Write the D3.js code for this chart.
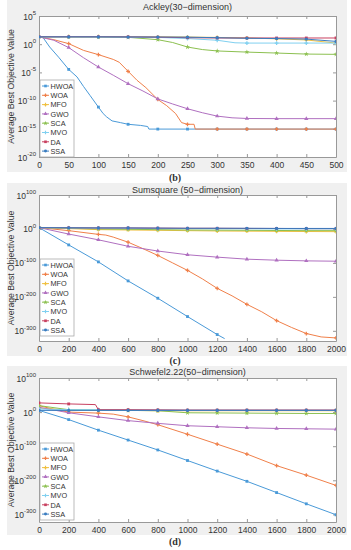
<!DOCTYPE html>
<html>
<head>
<meta charset="utf-8">
<script src="https://cdn.jsdelivr.net/npm/d3@7"></script>
<style>
  body { margin: 0; background: #fff; }
  text { font-family: "Liberation Sans", Arial, sans-serif; fill: #333; }
</style>
</head>
<body>
<svg id="chart" width="351" height="550"></svg>
<script>
// algorithm names (legend order = draw order)
let algos = ["HWOA", "WOA", "MFO", "GWO", "SCA", "MVO", "DA", "SSA"];
let colors = ["#4a9ad8", "#f0804a", "#f0c040", "#b070c0", "#8cc050", "#80d0f0", "#c84060", "#3a7cc0"];
let symbols = [d3.symbolSquare, d3.symbolCross, d3.symbolCross, d3.symbolTriangle, d3.symbolStar, d3.symbolCross, d3.symbolSquare, d3.symbolCircle];

// values are log10 of the average best objective value, [iteration, log10]
// (b) Ackley 30-dimension
let ackHWOA = [[0,1.3],[7,1.15],[18,-0.5],[33,-2.3],[50,-4.47],[64,-5.8],[75,-7.5],[86,-9.1],[100,-11.15],[108,-12.3],[114,-12.9],[123,-13.6],[137,-13.9],[150,-14.2],[171,-14.4],[183,-14.6],[185,-15.05],[200,-15.05],[250,-15.05],[300,-15.05],[350,-15.05],[400,-15.05],[450,-15.05],[500,-15.05]];
let ackWOA = [[0,1.3],[25,0.8],[50,0.1],[75,-1.1],[100,-1.85],[125,-2.7],[135,-3.2],[150,-4.8],[165,-6.4],[180,-7.7],[200,-9.8],[215,-10.9],[230,-12.3],[240,-13.9],[250,-14.2],[261,-14.2],[263,-15.05],[300,-15.05],[350,-15.05],[400,-15.05],[450,-15.05],[500,-15.05]];
let ackMFO = [[0,1.32],[50,1.32],[100,1.32],[150,1.31],[200,1.3],[250,1.27],[300,1.2],[350,1.1],[400,0.95],[450,0.75],[500,0.2]];
let ackGWO = [[0,1.3],[25,0.7],[50,-0.6],[75,-2.4],[100,-4.05],[125,-5.5],[150,-7.0],[175,-8.3],[200,-9.7],[225,-10.6],[250,-11.45],[275,-12.15],[300,-12.75],[325,-13.05],[350,-13.17],[400,-13.2],[450,-13.2],[500,-13.2]];
let ackSCA = [[0,1.3],[50,1.3],[100,1.28],[150,1.22],[200,0.8],[225,0.3],[250,-0.5],[275,-0.95],[300,-1.2],[350,-1.4],[400,-1.57],[450,-1.75],[500,-1.8]];
let ackMVO = [[0,1.3],[50,1.3],[100,1.28],[150,1.25],[200,1.2],[250,1.0],[300,0.7],[330,0.25],[350,0.2],[400,0.2],[450,0.2],[500,0.2]];
let ackDA = [[0,1.32],[50,1.32],[100,1.32],[150,1.3],[200,1.25],[250,1.15],[300,1.1],[350,1.1],[400,1.1],[450,1.1],[500,1.1]];
let ackSSA = [[0,1.3],[50,1.3],[100,1.3],[150,1.28],[200,1.27],[250,1.25],[300,1.15],[350,1.05],[400,1.0],[450,0.9],[500,0.5]];

// (c) Sumsquare 50-dimension
let sumHWOA = [[0,4],[200,-47],[400,-97],[600,-153],[800,-204],[1000,-258],[1200,-311],[1250,-323]];
let sumWOA = [[0,4],[200,-5],[400,-16],[450,-18],[500,-24],[600,-39],[700,-58],[800,-78],[900,-100],[1000,-122],[1100,-147],[1200,-175],[1300,-197],[1400,-222],[1500,-244],[1600,-270],[1700,-290],[1800,-308],[1900,-318],[2000,-321]];
let sumMFO = [[0,4],[200,1],[400,-2],[600,-3],[800,-4],[1000,-5],[1200,-6],[1400,-6.5],[1600,-7],[1800,-7.5],[2000,-8]];
let sumGWO = [[0,4],[200,-15],[400,-32],[600,-51],[800,-65],[1000,-76],[1200,-83],[1400,-89],[1600,-92],[1800,-94],[2000,-95]];
let sumSCA = [[0,4],[200,2],[400,0],[600,-1],[800,-2],[1000,-3],[1200,-3.5],[1400,-4],[1600,-4.5],[1800,-5],[2000,-5]];
let sumMVO = [[0,4],[200,3],[400,2],[600,1.5],[800,1],[1000,1],[1200,0.5],[1400,0.5],[1600,0],[1800,0],[2000,0]];
let sumDA = [[0,4],[200,3.5],[400,3],[600,3],[800,2.5],[1000,2],[1200,2],[1400,1.5],[1600,1.5],[1800,1],[2000,1]];
let sumSSA = [[0,4],[200,3.5],[400,3],[600,3],[800,2.5],[1000,2],[1200,2],[1400,2],[1600,1.5],[1800,1.5],[2000,1.5]];

// (d) Schwefel2.22 50-dimension
let schHWOA = [[0,5],[200,-22],[400,-53],[600,-82],[800,-111],[1000,-142],[1200,-173],[1400,-203],[1600,-236],[1800,-269],[2000,-301]];
let schWOA = [[0,19],[100,8],[200,0],[400,-3],[500,-6],[600,-14],[700,-25],[800,-37],[1000,-65],[1200,-94],[1400,-123],[1600,-157],[1800,-185],[2000,-215]];
let schMFO = [[0,12],[200,6],[400,5],[600,5],[800,4],[1000,4],[1200,4],[1400,4],[1600,4],[1800,4],[2000,4]];
let schGWO = [[0,14],[200,-2],[400,-14],[600,-25],[800,-33],[1000,-40],[1200,-43],[1400,-46],[1600,-48],[1800,-49],[2000,-50]];
let schSCA = [[0,19],[200,7],[400,6],[600,5],[800,4],[1000,-2],[1200,-2.5],[1400,-3],[1600,-3.5],[1800,-4],[2000,-4]];
let schMVO = [[0,9],[200,7],[400,7],[600,6.5],[800,6.5],[1000,6],[1200,6],[1400,6],[1600,6],[1800,6],[2000,6]];
let schDA = [[0,27],[200,24],[380,22],[400,7],[600,7],[800,6.5],[1000,6],[1200,6],[1400,6],[1600,6],[1800,6],[2000,6]];
let schSSA = [[0,5],[200,5],[400,5],[600,5],[800,5],[1000,5],[1200,5],[1400,5],[1600,5],[1800,5],[2000,5]];

let ackXTicks = d3.range(0, 501, 50);
let longXTicks = d3.range(0, 2001, 200);
let ackYTicks = [-20, -15, -10, -5, 0, 5];
let longYTicks = [-300, -200, -100, 0, 100];

let svg = d3.select("#chart");

let panels = [
  { title: "Ackley(30\u2212dimension)", caption: "(b)", series: [ackHWOA, ackWOA, ackMFO, ackGWO, ackSCA, ackMVO, ackDA, ackSSA],
    xMax: 500, step: 50, xTicks: ackXTicks, yTicks: ackYTicks, yDomain: [-20, 5],
    bgTop: 0, bgBottom: 172, top: 16, bottom: 157, titleY: 10, captionY: 181, legendTop: 80 },
  { title: "Sumsquare (50\u2212dimension)", caption: "(c)", series: [sumHWOA, sumWOA, sumMFO, sumGWO, sumSCA, sumMVO, sumDA, sumSSA],
    xMax: 2000, step: 200, xTicks: longXTicks, yTicks: longYTicks, yDomain: [-330, 100],
    bgTop: 183, bgBottom: 356, top: 195, bottom: 341, titleY: 193, captionY: 364, legendTop: 259 },
  { title: "Schwefel2.22(50\u2212dimension)", caption: "(d)", series: [schHWOA, schWOA, schMFO, schGWO, schSCA, schMVO, schDA, schSSA],
    xMax: 2000, step: 200, xTicks: longXTicks, yTicks: longYTicks, yDomain: [-322.3, 100],
    bgTop: 366, bgBottom: 535, top: 378, bottom: 522, titleY: 374.5, captionY: 545, legendTop: 443 }
];

function drawPanel(p, idx) {
  let g = svg.append("g");
  g.append("rect").attr("x", 7).attr("y", p.bgTop).attr("width", 340).attr("height", p.bgBottom - p.bgTop).attr("fill", "#f0f0f0");

  let x = d3.scaleLinear().domain([0, p.xMax]).range([39, 336]);
  let y = d3.scaleLinear().domain(p.yDomain).range([p.bottom, p.top]);

  g.append("rect").attr("x", 39).attr("y", p.top).attr("width", 297).attr("height", p.bottom - p.top).attr("fill", "#fff");

  g.append("clipPath").attr("id", "clip" + idx)
    .append("rect").attr("x", 39).attr("y", p.top).attr("width", 297).attr("height", p.bottom - p.top);

  // axes, ticks inside
  let axisColor = "#999";
  let bottomAx = g.append("g").attr("transform", "translate(0," + p.bottom + ")")
    .call(d3.axisBottom(x).tickValues(p.xTicks).tickSize(-3).tickSizeOuter(0).tickPadding(5).tickFormat(d3.format("d")));
  g.append("g").attr("transform", "translate(0," + p.top + ")")
    .call(d3.axisTop(x).tickValues(p.xTicks).tickSize(-3).tickSizeOuter(0).tickFormat(""));
  g.append("g").attr("transform", "translate(39,0)")
    .call(d3.axisLeft(y).tickValues(p.yTicks).tickSize(-3).tickSizeOuter(0).tickFormat(""));
  g.append("g").attr("transform", "translate(336,0)")
    .call(d3.axisRight(y).tickValues(p.yTicks).tickSize(-3).tickSizeOuter(0).tickFormat(""));
  g.selectAll(".domain, .tick line").attr("stroke", axisColor);
  bottomAx.selectAll("text").attr("font-size", 8.5).attr("fill", "#333")
    .style("font-family", "'Liberation Sans', Arial, sans-serif");

  // y tick labels 10^k
  let yl = g.selectAll(".ylab").data(p.yTicks).enter().append("text")
    .attr("x", 36).attr("y", function (d) { return y(d) + 3.5; })
    .attr("text-anchor", "end").attr("font-size", 8.5);
  yl.append("tspan").text("10");
  yl.append("tspan").attr("dy", -4.5).attr("font-size", 6).text(function (d) { return d; });

  // title
  g.append("text").attr("x", 187.5).attr("y", p.titleY).attr("text-anchor", "middle")
    .attr("font-size", 9).text(p.title);

  // y axis label
  g.append("text").attr("transform", "translate(14," + ((p.top + p.bottom) / 2) + ") rotate(-90)")
    .attr("text-anchor", "middle").attr("font-size", 8.7).text("Average Best Objective Value");

  // caption
  g.append("text").attr("x", 175).attr("y", p.captionY).attr("text-anchor", "middle")
    .style("font-family", "'Liberation Serif', 'Times New Roman', serif")
    .attr("font-size", 10).attr("font-weight", "bold").attr("fill", "#111").text(p.caption);

  // lines
  let line = d3.line().x(function (d) { return x(d[0]); }).y(function (d) { return y(d[1]); });
  let plot = g.append("g").attr("clip-path", "url(#clip" + idx + ")");
  p.series.forEach(function (s, i) {
    plot.append("path").datum(s).attr("d", line).attr("fill", "none")
      .attr("stroke", colors[i]).attr("stroke-width", 1);
    plot.selectAll(".m" + i).data(s.filter(function (d) { return d[0] % p.step === 0; }))
      .enter().append("path").attr("class", "m" + i)
      .attr("transform", function (d) { return "translate(" + x(d[0]) + "," + y(d[1]) + ")"; })
      .attr("d", d3.symbol().type(symbols[i]).size(8))
      .attr("fill", colors[i]);
  });

  // legend
  let lg = g.append("g").attr("transform", "translate(40," + p.legendTop + ")");
  lg.append("rect").attr("width", 34).attr("height", 77).attr("fill", "#fff")
    .attr("stroke", "#aaa").attr("stroke-width", 0.8);
  let items = lg.selectAll(".li").data(algos).enter().append("g")
    .attr("transform", function (d, i) { return "translate(0," + (6 + i * 9.3) + ")"; });
  items.append("line").attr("x1", 2).attr("x2", 9).attr("stroke", function (d, i) { return colors[i]; });
  items.append("path").attr("transform", "translate(5.5,0)")
    .attr("d", function (d, i) { return d3.symbol().type(symbols[i]).size(7)(); })
    .attr("fill", function (d, i) { return colors[i]; });
  items.append("text").attr("x", 10.5).attr("y", 2.7).attr("font-size", 7.3).text(function (d) { return d; });
}

panels.forEach(drawPanel);
</script>
</body>
</html>
